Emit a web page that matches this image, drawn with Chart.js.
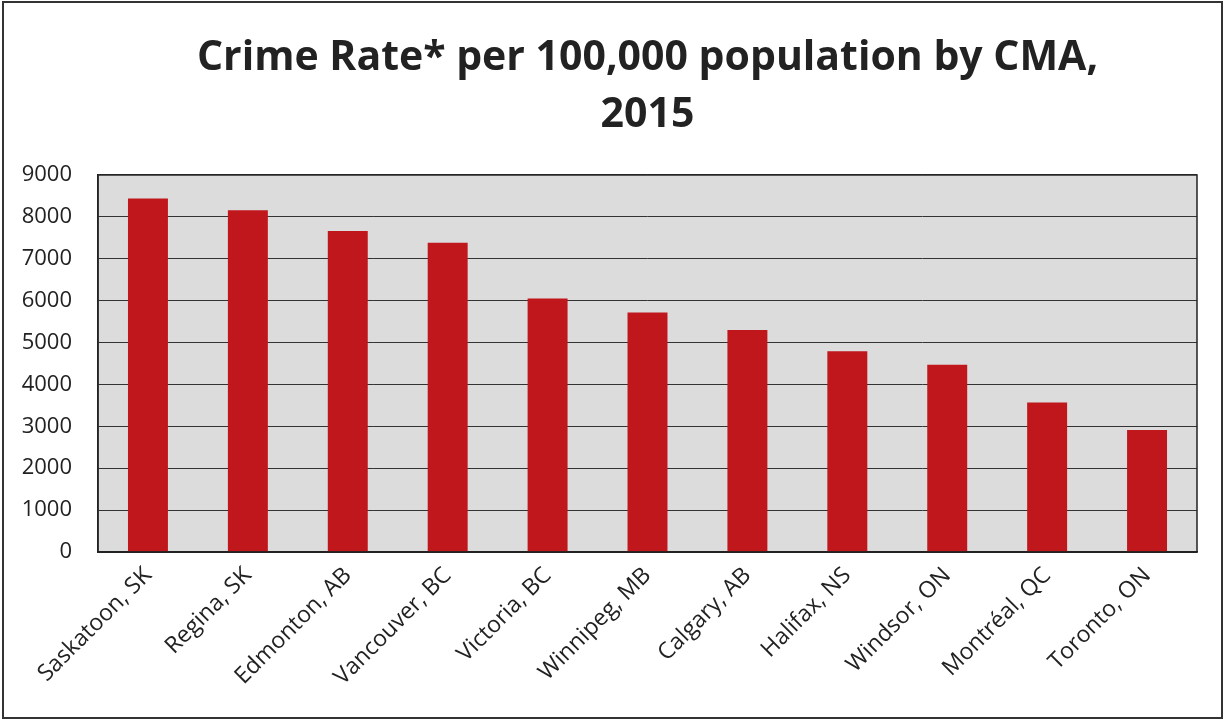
<!DOCTYPE html>
<html lang="en">
<head>
  <meta charset="UTF-8" />
  <title>Crime Rate by CMA, 2015</title>
  <script src="https://cdn.jsdelivr.net/npm/chart.js"></script>
  <style>
    html, body { margin: 0; padding: 0; background: #fff; }
    #wrap { width: 1227px; height: 721px; position: relative; }
  </style>
</head>
<body>
  <div id="wrap"><canvas id="crime-chart"></canvas></div>

  <script>
    const cities = ['Saskatoon, SK', 'Regina, SK', 'Edmonton, AB', 'Vancouver, BC', 'Victoria, BC',
      'Winnipeg, MB', 'Calgary, AB', 'Halifax, NS', 'Windsor, ON', 'Montréal, QC', 'Toronto, ON'];
    const crimeRates = [8440, 8160, 7660, 7380, 6050, 5720, 5300, 4790, 4470, 3570, 2910];
    const yTicks = [0, 1000, 2000, 3000, 4000, 5000, 6000, 7000, 8000, 9000];

    // gray plot background, plot frame, and the scanned page frame
    const framePlugin = {
      id: 'frame',
      beforeDraw(chart) {
        const { ctx, chartArea: a } = chart;
        ctx.save();
        ctx.fillStyle = '#dcdcdc';
        ctx.fillRect(a.left, a.top, a.right - a.left, a.bottom - a.top);
        ctx.restore();
      },
      afterDraw(chart) {
        const { ctx, chartArea: a } = chart;
        ctx.save();
        ctx.strokeStyle = '#222';
        ctx.lineWidth = 1.5;
        ctx.strokeRect(a.left, a.top, a.right - a.left, a.bottom - a.top);
        ctx.lineWidth = 2;
        ctx.strokeStyle = '#333';
        ctx.strokeRect(3, 2, 1219, 716);
        ctx.restore();
      }
    };

    const ctx = document.getElementById('crime-chart').getContext('2d');
    const chart = new Chart(ctx, {
      type: 'bar',
      data: {
        labels: cities,
        datasets: [{
          label: 'Crime Rate',
          data: crimeRates,
          backgroundColor: '#c0171c',
          borderWidth: 0,
          barPercentage: 0.4,
          categoryPercentage: 1
        }]
      },
      options: {
        responsive: true,
        maintainAspectRatio: false,
        animation: false,
        layout: { padding: { left: 10, right: 30, top: 0, bottom: 0 } },
        plugins: {
          legend: { display: false },
          tooltip: { enabled: false },
          title: {
            display: true,
            fullSize: false, // centre over the plot area, like the original
            text: ['Crime Rate* per 100,000 population by CMA,', '2015'],
            color: '#222',
            font: { family: 'Open Sans', size: 41, weight: 'bold', lineHeight: 1.39 },
            padding: { top: 30, bottom: 31 }
          }
        },
        scales: {
          x: {
            grid: { display: false, drawTicks: false },
            border: { color: '#222', width: 1.5 },
            ticks: {
              color: '#222',
              font: { family: 'Open Sans', size: 23 },
              minRotation: 45,
              maxRotation: 45,
              padding: 10
            },
            afterFit(scale) { scale.height = 169; }
          },
          y: {
            min: 0,
            max: 9000,
            afterBuildTicks(scale) { scale.ticks = yTicks.map(v => ({ value: v })); },
            grid: { color: '#333', lineWidth: 1, drawTicks: false },
            border: { color: '#222', width: 1.5 },
            ticks: {
              color: '#222',
              font: { family: 'Open Sans', size: 22 },
              padding: 26,
              callback: v => String(v)
            },
            afterFit(scale) { scale.width = 88; }
          }
        }
      },
      plugins: [framePlugin]
    });
  </script>
</body>
</html>
